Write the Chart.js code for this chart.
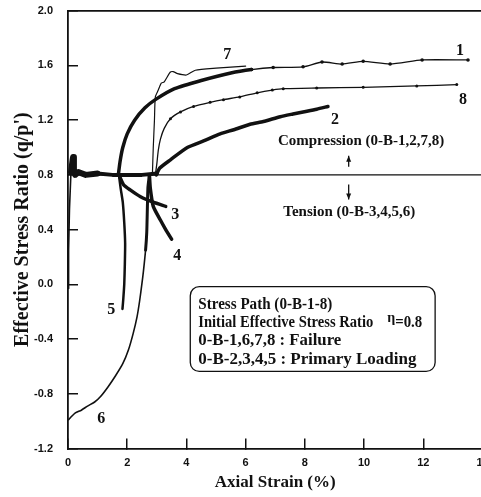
<!DOCTYPE html>
<html><head><meta charset="utf-8">
<style>html,body{margin:0;padding:0;background:#fff;overflow:hidden;}canvas{display:block;}</style>
<script src="https://cdn.jsdelivr.net/npm/chart.js@4.4.1/dist/chart.umd.min.js"></script>
</head><body>
<canvas id="c" width="490" height="497"></canvas>
<script>
// ---- tick labels ----
const xTicks = [0, 2, 4, 6, 8, 10, 12, 14];
const yTicks = [-1.2, -0.8, -0.4, 0.0, 0.4, 0.8, 1.2, 1.6, 2.0];

// ---- stress path 0-B (common initial path) ----
const baseX = [0.00, 0.02, 0.05, 0.10, 0.15, 0.17, 0.20, 0.24, 0.35, 0.60, 1.00, 1.50, 2.00, 2.50, 3.00];
const baseY = [-0.03, 0.25, 0.55, 0.82, 0.90, 0.93, 0.84, 0.80, 0.82, 0.80, 0.81, 0.80, 0.80, 0.80, 0.81];

// ---- branch paths ----
const path1X = [1.70, 1.76, 1.85, 2.00, 2.25, 2.60, 2.95, 3.60, 4.50, 5.50, 6.20, 6.93, 7.94, 8.58, 9.26, 9.97, 10.88, 11.96, 13.51];
const path1Y = [0.80, 0.90, 1.00, 1.10, 1.20, 1.29, 1.35, 1.43, 1.49, 1.545, 1.57, 1.585, 1.59, 1.625, 1.61, 1.63, 1.61, 1.64, 1.64];

const path2X = [2.98, 3.10, 3.46, 4.03, 4.60, 5.14, 5.60, 6.15, 6.60, 7.17, 7.60, 7.94, 8.40, 8.78];
const path2Y = [0.80, 0.85, 0.91, 1.00, 1.05, 1.10, 1.13, 1.17, 1.19, 1.225, 1.245, 1.26, 1.28, 1.30];

const path3X = [1.72, 1.87, 2.10, 2.45, 2.88, 3.30];
const path3Y = [0.80, 0.73, 0.69, 0.64, 0.60, 0.57];

const path4X = [2.75, 2.78, 2.88, 3.12, 3.30, 3.50];
const path4Y = [0.80, 0.70, 0.57, 0.47, 0.40, 0.33];

const path5X = [1.72, 1.78, 1.85, 1.90, 1.93, 1.92, 1.90, 1.87, 1.84];
const path5Y = [0.80, 0.70, 0.60, 0.45, 0.30, 0.15, 0.00, -0.10, -0.18];

const path6X = [2.75, 2.70, 2.68, 2.66, 2.62, 2.55, 2.50, 2.42, 2.33, 2.20, 2.04, 1.85, 1.60, 1.35, 1.10, 0.90, 0.66, 0.45, 0.25, 0.10, 0.02];
const path6Y = [0.80, 0.71, 0.55, 0.38, 0.25, 0.10, 0.01, -0.12, -0.24, -0.36, -0.48, -0.58, -0.67, -0.75, -0.82, -0.86, -0.89, -0.92, -0.94, -0.97, -0.99];

const path7X = [2.85, 2.88, 2.92, 2.95, 3.05, 3.15, 3.25, 3.45, 3.55, 3.70, 4.00, 4.30, 5.00, 6.00];
const path7Y = [0.80, 1.00, 1.20, 1.37, 1.42, 1.47, 1.48, 1.55, 1.555, 1.54, 1.53, 1.565, 1.58, 1.595];

const path8X = [2.95, 3.00, 3.05, 3.12, 3.25, 3.46, 3.80, 4.24, 4.80, 5.25, 5.80, 6.39, 6.90, 7.27, 8.40, 9.97, 11.78, 13.13];
const path8Y = [0.80, 0.88, 0.98, 1.06, 1.14, 1.21, 1.26, 1.30, 1.33, 1.35, 1.37, 1.40, 1.42, 1.43, 1.435, 1.44, 1.45, 1.46];

// initial effective stress ratio reference line
const etaLineX = [0, 14];
const etaLineY = [0.8, 0.8];

// ---- annotation texts ----
const curveLabels = ['1', '2', '3', '4', '5', '6', '7', '8'];
const curveLabelX = [13.24, 9.02, 3.62, 3.69, 1.46, 1.12, 5.38, 13.34];
const curveLabelY = [1.71, 1.20, 0.51, 0.21, -0.19, -0.985, 1.68, 1.35];

const legendLines = ['Stress Path (0-B-1-8)', 'Initial Effective Stress Ratio', '0-B-1,6,7,8 : Failure', '0-B-2,3,4,5 : Primary Loading'];

const pts = (xs, ys) => xs.map((x, i) => ({x: x, y: ys[i]}));
const INK = '#111';
const SERIF = '"Liberation Serif", "Times New Roman", serif';

function ds(label, xs, ys, width, extra) {
  return Object.assign({
    label: label, data: pts(xs, ys), borderColor: INK, backgroundColor: INK,
    borderWidth: width, pointRadius: 0, pointBorderWidth: 0, tension: 0.2, fill: false
  }, extra || {});
}

const datasets = [
  ds('eta = 0.8', etaLineX, etaLineY, 1.2, {tension: 0}),
  ds('0-B', baseX, baseY, 4, {tension: 0, segment: {borderWidth: c => c.p0.parsed.x < 0.09 ? 1.6 : (c.p0.parsed.x < 1.0 ? 6 : 4)}}),
  ds('Path 1', path1X, path1Y, 3.5, {
    segment: {borderWidth: c => c.p0.parsed.x >= 6.2 ? 1.3 : 3.5},
    pointRadius: c => (c.parsed && c.parsed.x >= 6.2) ? 1.8 : 0
  }),
  ds('Path 2', path2X, path2Y, 3.5),
  ds('Path 3', path3X, path3Y, 3.5),
  ds('Path 4', path4X, path4Y, 3.5),
  ds('Path 5', path5X, path5Y, 2.5),
  ds('Path 6', path6X, path6Y, 1.6, {segment: {borderWidth: c => c.p0.parsed.y > 0.3 ? 3 : 1.6}}),
  ds('Path 7', path7X, path7Y, 1.2),
  ds('Path 8', path8X, path8Y, 1.3, {pointRadius: c => (c.parsed && c.parsed.x >= 3.4) ? 1.5 : 0})
];

const annotations = {
  id: 'annotations',
  afterDatasetsDraw(chart) {
    const {ctx, scales: {x, y}} = chart;
    const px = v => x.getPixelForValue(v), py = v => y.getPixelForValue(v);
    ctx.save();
    ctx.fillStyle = INK; ctx.strokeStyle = INK;
    ctx.textAlign = 'center'; ctx.textBaseline = 'middle';
    // curve numbers
    ctx.font = 'bold 16px ' + SERIF;
    curveLabels.forEach((t, i) => ctx.fillText(t, px(curveLabelX[i]), py(curveLabelY[i])));
    // compression / tension
    ctx.font = 'bold 15px ' + SERIF;
    ctx.fillText('Compression (0-B-1,2,7,8)', px(9.9), py(1.045));
    ctx.fillText('Tension (0-B-3,4,5,6)', px(9.5), py(0.53));
    // arrows
    const ax = px(9.48);
    ctx.lineWidth = 1.3;
    const arrow = (y0, y1) => {
      const a = py(y0), b = py(y1), dir = b < a ? -1 : 1;
      ctx.beginPath(); ctx.moveTo(ax, a); ctx.lineTo(ax, b); ctx.stroke();
      ctx.beginPath(); ctx.moveTo(ax, b); ctx.lineTo(ax - 2.5, b - dir * 6); ctx.lineTo(ax + 2.5, b - dir * 6); ctx.closePath(); ctx.fill();
    };
    arrow(0.86, 0.94);
    arrow(0.73, 0.62);
    // legend box
    const bx0 = px(4.13), bx1 = px(12.4), by0 = py(-0.017), by1 = py(-0.637);
    ctx.lineWidth = 1.3;
    ctx.beginPath();
    if (ctx.roundRect) ctx.roundRect(bx0, by0, bx1 - bx0, by1 - by0, 9); else ctx.rect(bx0, by0, bx1 - bx0, by1 - by0);
    ctx.stroke();
    ctx.textAlign = 'left';
    ctx.font = 'bold 17px ' + SERIF;
    const lx = px(4.40);
    const lineY = [-0.151, -0.278, -0.415, -0.547];
    const lineW = [134, 175, 143, 222];
    legendLines.forEach((t, i) => ctx.fillText(t, lx, py(lineY[i]), lineW[i]));
    const ex = lx + lineW[1] + 14;
    ctx.font = 'bold 14px ' + SERIF;
    ctx.fillText('\u03B7', ex, py(lineY[1]) - 4);
    const ew = ctx.measureText('\u03B7').width;
    ctx.font = 'bold 17px ' + SERIF;
    ctx.fillText('=0.8', ex + ew, py(lineY[1]), 27);
    ctx.restore();
  }
};

const tickFont = {family: '"Liberation Sans Narrow", "Arial Narrow", "Liberation Sans", sans-serif', size: 11, weight: 'bold'};
const noPad = s => { s.paddingTop = 0; s.paddingBottom = 0; s.paddingLeft = 0; s.paddingRight = 0; };

new Chart(document.getElementById('c'), {
  type: 'line',
  data: {datasets: datasets},
  options: {
    responsive: false, animation: false,
    layout: {autoPadding: false, padding: {left: 0, right: 7.5, top: 10.7, bottom: 0}},
    plugins: {legend: {display: false}, tooltip: {enabled: false}},
    elements: {line: {capBezierPoints: true, borderJoinStyle: 'round', borderCapStyle: 'round'}},
    scales: {
      x: {
        type: 'linear', position: 'bottom', min: 0, max: 14,
        afterBuildTicks: s => { s.ticks = xTicks.map(v => ({value: v})); },
        afterFit: s => { s.height = 48.5; noPad(s); },
        ticks: {color: INK, font: tickFont, padding: 18, maxRotation: 0, callback: v => String(v)},
        grid: {drawOnChartArea: false, drawTicks: true, tickLength: -10, color: INK, lineWidth: 1.5},
        border: {display: true, color: INK, width: 1.8},
        title: {display: true, text: 'Axial Strain (%)', color: INK, font: {family: SERIF, size: 17, weight: 'bold'}, padding: {top: 0, bottom: 4}}
      },
      xTop: {
        type: 'linear', position: 'top', min: 0, max: 14,
        afterFit: s => { s.height = 0; noPad(s); },
        ticks: {display: false},
        grid: {drawOnChartArea: false, drawTicks: false},
        border: {display: true, color: INK, width: 1.8}
      },
      y: {
        type: 'linear', position: 'left', min: -1.2, max: 2.0,
        afterBuildTicks: s => { s.ticks = yTicks.map(v => ({value: v})); },
        afterFit: s => { s.width = 68; noPad(s); },
        ticks: {color: INK, font: tickFont, padding: 25, callback: v => v.toFixed(1)},
        grid: {drawOnChartArea: false, drawTicks: true, tickLength: -10, color: INK, lineWidth: 1.5},
        border: {display: true, color: INK, width: 1.8},
        title: {display: true, text: "Effective Stress Ratio (q/p')", color: INK, font: {family: SERIF, size: 20, weight: 'bold'}, padding: {top: 11, bottom: 0}}
      }
    }
  },
  plugins: [annotations]
});
</script>
</body></html>
